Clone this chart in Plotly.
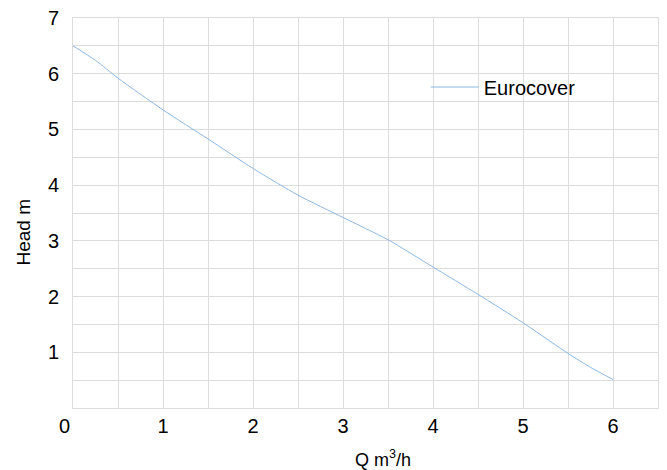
import plotly.graph_objects as go

# Data
flow_q = [0, 0.25, 0.5, 1.0, 1.5, 2.0, 2.5, 3.0, 3.5, 4.0, 4.5, 5.0, 5.5, 5.75, 6.0]
head_m = [6.50, 6.24, 5.92, 5.35, 4.83, 4.30, 3.82, 3.42, 3.02, 2.53, 2.04, 1.53, 0.98, 0.73, 0.51]
series_name = "Eurocover"
x_title = "Q m<sup>3</sup>/h"
y_title = "Head m"

x_ticks = [1, 2, 3, 4, 5, 6]
x_minor = [i * 0.5 for i in range(14)]
y_ticks = [1, 2, 3, 4, 5, 6, 7]
y_minor = [i * 0.5 for i in range(15)]

FONT = "Liberation Sans, Arial, sans-serif"
GRID = "#dcdcdc"

fig = go.Figure()
fig.add_trace(go.Scatter(
    x=flow_q, y=head_m, mode="lines", name=series_name,
    line=dict(color="#8cb8e4", width=1, shape="spline", smoothing=0.6),
))

# the page body has an 8px margin, so the figure is sized to fit the window
fig.update_layout(
    width=659, height=462,
    margin=dict(l=65, r=9, t=10, b=62),
    paper_bgcolor="white", plot_bgcolor="white",
    font=dict(family=FONT, color="black"),
    showlegend=True,
    legend=dict(
        x=0.603, y=0.823, xanchor="left", yanchor="middle",
        bgcolor="rgba(0,0,0,0)", font=dict(size=20, family=FONT),
        itemwidth=48,
    ),
    xaxis=dict(
        range=[0, 6.5], tickmode="array", tickvals=x_ticks,
        showgrid=True, gridcolor=GRID, gridwidth=1, zeroline=False,
        minor=dict(tickmode="array", tickvals=x_minor, showgrid=True, gridcolor=GRID, gridwidth=1, ticks=""),
        showline=True, linecolor=GRID, linewidth=1, mirror=True,
        ticks="", tickfont=dict(size=20), ticklabelstandoff=0, automargin=False,
        ticklabeloverflow="allow",
    ),
    yaxis=dict(
        range=[0, 7], tickmode="array", tickvals=y_ticks,
        showgrid=True, gridcolor=GRID, gridwidth=1, zeroline=False,
        minor=dict(tickmode="array", tickvals=y_minor, showgrid=True, gridcolor=GRID, gridwidth=1, ticks=""),
        showline=True, linecolor=GRID, linewidth=1, mirror=True,
        ticks="", tickfont=dict(size=20), ticklabelstandoff=9, automargin=False,
        ticklabeloverflow="allow",
    ),
)

# axis titles (offset from the plot centre as in the reference)
fig.add_annotation(
    x=0.53, y=0, xref="paper", yref="paper", text=x_title, showarrow=False,
    xanchor="center", yanchor="middle", yshift=-50,
    font=dict(size=18, family=FONT, color="black"),
)
fig.add_annotation(
    x=0, y=0.45, xref="paper", yref="paper", text=y_title, showarrow=False,
    textangle=-90, xanchor="center", yanchor="middle", xshift=-50,
    font=dict(size=19, family=FONT, color="black"),
)

fig.add_annotation(
    x=0, y=0, xref="x", yref="y", text="0", showarrow=False,
    xshift=-9, yshift=-18, font=dict(size=20, family=FONT, color="black"),
)

fig.write_html("out.html")
